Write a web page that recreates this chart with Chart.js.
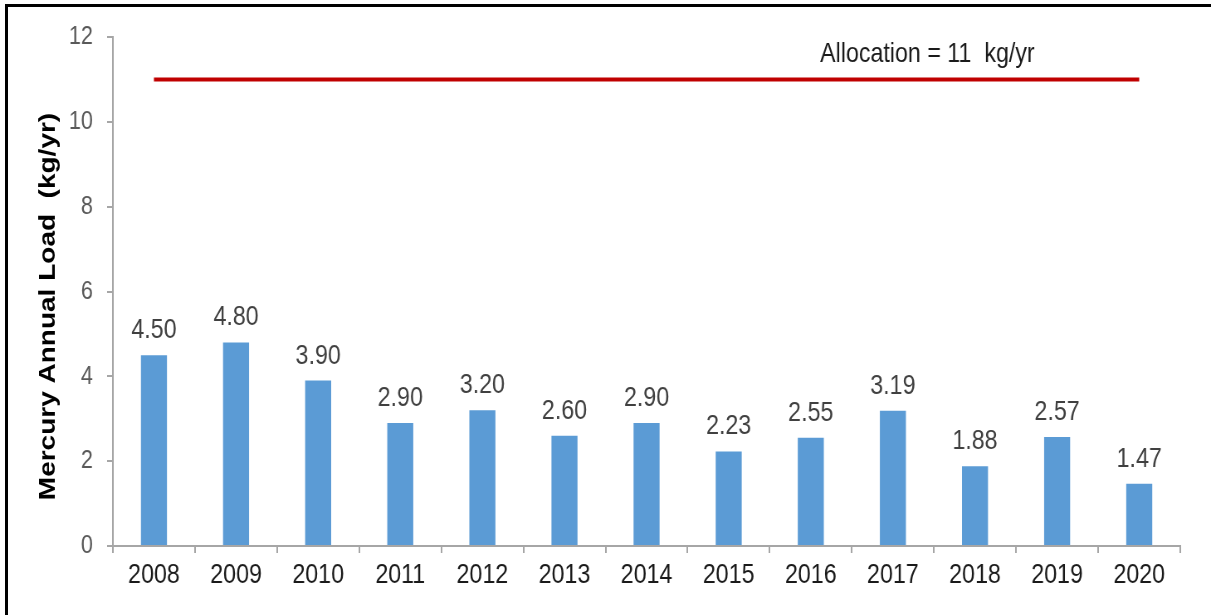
<!DOCTYPE html>
<html>
<head>
<meta charset="utf-8">
<script src="https://cdn.jsdelivr.net/npm/chart.js@4.4.0/dist/chart.umd.min.js"></script>
<style>
  html, body { margin: 0; padding: 0; background: #fff; overflow: hidden; }
  #stage { position: relative; width: 1211px; height: 615px; overflow: hidden; background: #fff; }
  #wrap { position: absolute; left: 0; top: 0; width: 1459px; height: 615px; transform: scaleX(0.83); transform-origin: 0 0; }
  #topline { position: absolute; left: 5px; top: 4px; width: 1206px; height: 3px; background: #000; }
  #leftline { position: absolute; left: 5px; top: 4px; width: 3px; height: 611px; background: #000; }
</style>
</head>
<body>
<div id="stage">
<div id="wrap"><canvas id="c" width="1459" height="615"></canvas></div>
<div id="topline"></div>
<div id="leftline"></div>
</div>
<script>
const years = ['2008','2009','2010','2011','2012','2013','2014','2015','2016','2017','2018','2019','2020'];
const loads = [4.50, 4.80, 3.90, 2.90, 3.20, 2.60, 2.90, 2.23, 2.55, 3.19, 1.88, 2.57, 1.47];
const allocation = [11, 11, 11, 11, 11, 11, 11, 11, 11, 11, 11, 11, 11];
const allocationLabel = 'Allocation = 11  kg/yr';
const yTitle = 'Mercury Annual Load  (kg/yr)';
const yTicks = [0, 2, 4, 6, 8, 10, 12];

const FONT = '"Liberation Sans", Arial, sans-serif';

const extras = {
  id: 'extras',
  afterDatasetsDraw(chart) {
    const ctx = chart.ctx;
    const meta = chart.getDatasetMeta(1);
    ctx.save();
    ctx.font = '28px ' + FONT;
    ctx.fillStyle = '#404040';
    ctx.textAlign = 'center';
    ctx.textBaseline = 'alphabetic';
    meta.data.forEach((bar, i) => {
      ctx.fillText(loads[i].toFixed(2), bar.x, bar.y - 17);
    });
    const ys = chart.scales.y;
    const xs = chart.scales.x;
    const ly = ys.getPixelForValue(allocation[0]) - 17;
    const lx = xs.getPixelForValue(9.42);
    ctx.fillStyle = '#1a1a1a';
    ctx.fillText(allocationLabel, lx, ly);
    ctx.font = 'bold 28px ' + FONT;
    ctx.fillStyle = '#000';
    ctx.translate(66, (chart.chartArea.top + chart.chartArea.bottom) / 2 + 15);
    ctx.rotate(-Math.PI / 2);
    ctx.textAlign = 'center';
    ctx.fillText(yTitle, 0, 0);
    ctx.restore();
  }
};

new Chart(document.getElementById('c'), {
  type: 'bar',
  data: {
    labels: years,
    datasets: [
      {
        type: 'line',
        data: allocation,
        borderColor: '#C00000',
        borderWidth: 4,
        pointRadius: 0,
        fill: false,
        order: 0
      },
      {
        type: 'bar',
        data: loads,
        backgroundColor: '#5B9BD5',
        borderWidth: 0,
        categoryPercentage: 1.0,
        barPercentage: 0.317,
        order: 1
      }
    ]
  },
  options: {
    responsive: false,
    devicePixelRatio: 1,
    animation: false,
    layout: { padding: { top: 37, right: 37, bottom: 0, left: 0 } },
    plugins: { legend: { display: false }, tooltip: { enabled: false } },
    scales: {
      x: {
        offset: true,
        grid: { offset: true, drawOnChartArea: false, drawTicks: true, tickLength: 7, color: '#A6A6A6', lineWidth: 2 },
        border: { color: '#A6A6A6', width: 2 },
        ticks: { color: '#1a1a1a', font: { family: FONT, size: 28 }, padding: 5, maxRotation: 0, autoSkip: false },
        afterFit(s) { s.height = 69; }
      },
      y: {
        min: yTicks[0],
        max: yTicks[yTicks.length - 1],
        grid: { drawOnChartArea: false, drawTicks: true, tickLength: 7, color: '#A6A6A6', lineWidth: 2 },
        border: { color: '#A6A6A6', width: 2 },
        ticks: { stepSize: 2, color: '#595959', font: { family: FONT, size: 26 }, padding: 17 },
        afterFit(s) { s.width = 136; }
      }
    }
  },
  plugins: [extras]
});
</script>
</body>
</html>
